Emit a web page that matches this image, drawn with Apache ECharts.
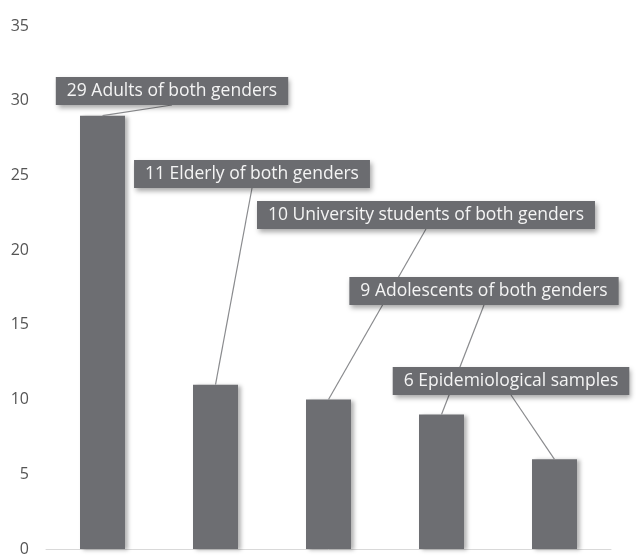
<!DOCTYPE html>
<html>
<head>
<meta charset="utf-8">
<script src="https://cdn.jsdelivr.net/npm/echarts@6/dist/echarts.min.js"></script>
<style>
  html, body { margin: 0; padding: 0; background: #fff; }
  #chart { width: 638px; height: 557px; }
</style>
</head>
<body>
<div id="chart"></div>
<script>
// data
var categories = ["Adults", "Elderly", "University students", "Adolescents", "Epidemiological"];
var values = [29, 11, 10, 9, 6];
var labelTexts = [
  "29 Adults of both genders",
  "11 Elderly of both genders",
  "10 University students of both genders",
  "9 Adolescents of both genders",
  "6 Epidemiological samples"
];
var yTicks = [0, 5, 10, 15, 20, 25, 30, 35];

// callout placement (pixels): centre x and top y of each box
var boxCenterX = [172, 252, 426, 484, 511];
var boxTopY = [77, 160, 201, 277, 367];

var FONT = "17.5px 'Open Sans', sans-serif";
var BOX_H = 28;
var PAD = 11;

var chart = echarts.init(document.getElementById("chart"));

function renderCallout(params, api) {
  var i = params.dataIndex;
  var top = api.coord([i, api.value(1)]);
  var text = labelTexts[i];
  var w = echarts.format.getTextRect
    ? echarts.format.getTextRect(text, FONT).width
    : text.length * 9;
  var bw = w + PAD * 2;
  var cx = boxCenterX[i];
  var y0 = boxTopY[i];
  return {
    type: "group",
    children: [
      {
        type: "line",
        shape: { x1: cx, y1: y0 + BOX_H, x2: top[0], y2: top[1] },
        style: { stroke: "#8a8b8e", lineWidth: 1.2 }
      },
      {
        type: "rect",
        shape: { x: cx - bw / 2, y: y0, width: bw, height: BOX_H },
        style: {
          fill: "#6b6c70",
          shadowColor: "rgba(0,0,0,0.35)",
          shadowBlur: 5,
          shadowOffsetX: 2,
          shadowOffsetY: 3
        }
      },
      {
        type: "text",
        x: cx,
        y: y0 + BOX_H / 2,
        style: {
          text: text,
          fill: "#f4f4f4",
          font: FONT,
          align: "center",
          verticalAlign: "middle"
        }
      }
    ]
  };
}

chart.setOption({
  animation: false,
  grid: { left: 46, right: 27, top: 26, bottom: 6 },
  xAxis: {
    type: "category",
    data: categories,
    axisLine: { lineStyle: { color: "#d9d9d9", width: 1 } },
    axisTick: { show: false },
    axisLabel: { show: false }
  },
  yAxis: {
    type: "value",
    min: yTicks[0],
    max: yTicks[yTicks.length - 1],
    interval: 5,
    splitLine: { show: false },
    axisLine: { show: false },
    axisTick: { show: false },
    axisLabel: {
      color: "#555",
      fontSize: 16,
      fontFamily: "'Open Sans', sans-serif",
      margin: 17
    }
  },
  series: [
    {
      type: "bar",
      data: values,
      barWidth: 45,
      itemStyle: {
        color: "#6d6e72",
        shadowColor: "rgba(0,0,0,0.3)",
        shadowBlur: 4,
        shadowOffsetX: 3,
        shadowOffsetY: 1
      }
    },
    {
      type: "custom",
      renderItem: renderCallout,
      data: values.map(function (v, i) { return [i, v]; }),
      z: 10
    }
  ]
});
</script>
</body>
</html>
